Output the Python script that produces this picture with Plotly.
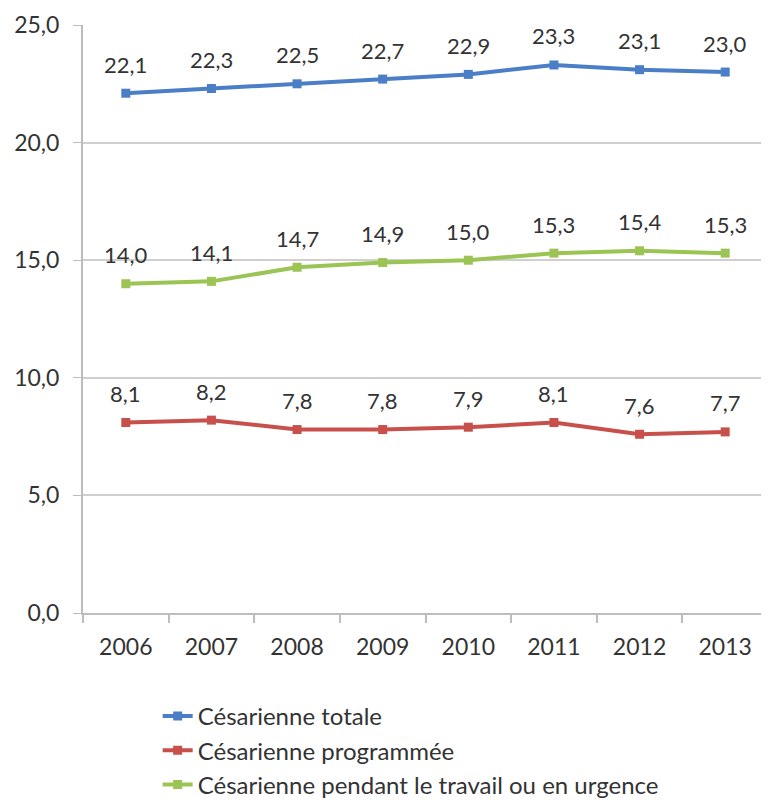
import plotly.graph_objects as go

# Data
years = ["2006", "2007", "2008", "2009", "2010", "2011", "2012", "2013"]
totale = [22.1, 22.3, 22.5, 22.7, 22.9, 23.3, 23.1, 23.0]
programmee = [8.1, 8.2, 7.8, 7.8, 7.9, 8.1, 7.6, 7.7]
urgence = [14.0, 14.1, 14.7, 14.9, 15.0, 15.3, 15.4, 15.3]

series = [
    ("Césarienne totale", totale, "#4A7EC7"),
    ("Césarienne programmée", programmee, "#C8504B"),
    ("Césarienne pendant le travail ou en urgence", urgence, "#9BC454"),
]

FONT = "Lato"
TXT = "#333333"

fig = go.Figure()
annotations = []
for name, vals, col in series:
    fig.add_trace(go.Scatter(
        x=years, y=vals, name=name,
        mode="lines+markers",
        line=dict(color=col, width=4),
        marker=dict(symbol="square", size=9, color=col),
    ))
    # data labels above each point (category index as x)
    for i, v in enumerate(vals):
        annotations.append(dict(
            x=i, y=v, xref="x", yref="y",
            text=f"{v:.1f}".replace(".", ","),
            showarrow=False, yshift=29,
            font=dict(family=FONT, size=22, color=TXT),
        ))

fig.update_layout(
    width=769, height=808,
    margin=dict(l=75, r=9, t=17, b=203),
    plot_bgcolor="white", paper_bgcolor="white",
    separators=", ",
    font=dict(family=FONT, size=22, color=TXT),
    annotations=annotations,
    showlegend=True,
    legend=dict(
        x=0.109, y=0.151, xanchor="left", yanchor="top",
        xref="paper", yref="container",
        orientation="v", tracegroupgap=0,
        font=dict(family=FONT, size=24, color=TXT),
        itemwidth=30,
    ),
    xaxis=dict(
        type="category", range=[-0.5, 7.5], automargin=False,
        showline=True, linecolor="#BDBDBD", linewidth=2,
        ticks="outside", tickson="boundaries", ticklen=8,
        tickcolor="#BDBDBD", tickwidth=2,
        showgrid=False, ticklabelstandoff=12, ticklabeloverflow="allow",
        tickfont=dict(family=FONT, size=23, color=TXT),
    ),
    yaxis=dict(
        range=[0, 25], dtick=5, tickformat=".1f", automargin=False,
        showline=True, linecolor="#BDBDBD", linewidth=2,
        showgrid=True, gridcolor="#CFCFCF", gridwidth=1.5,
        ticks="outside", ticklen=8, tickcolor="#BDBDBD",
        zeroline=False, ticklabelstandoff=9, ticklabeloverflow="allow",
        tickfont=dict(family=FONT, size=23, color=TXT),
    ),
)

fig.write_html("out.html")
